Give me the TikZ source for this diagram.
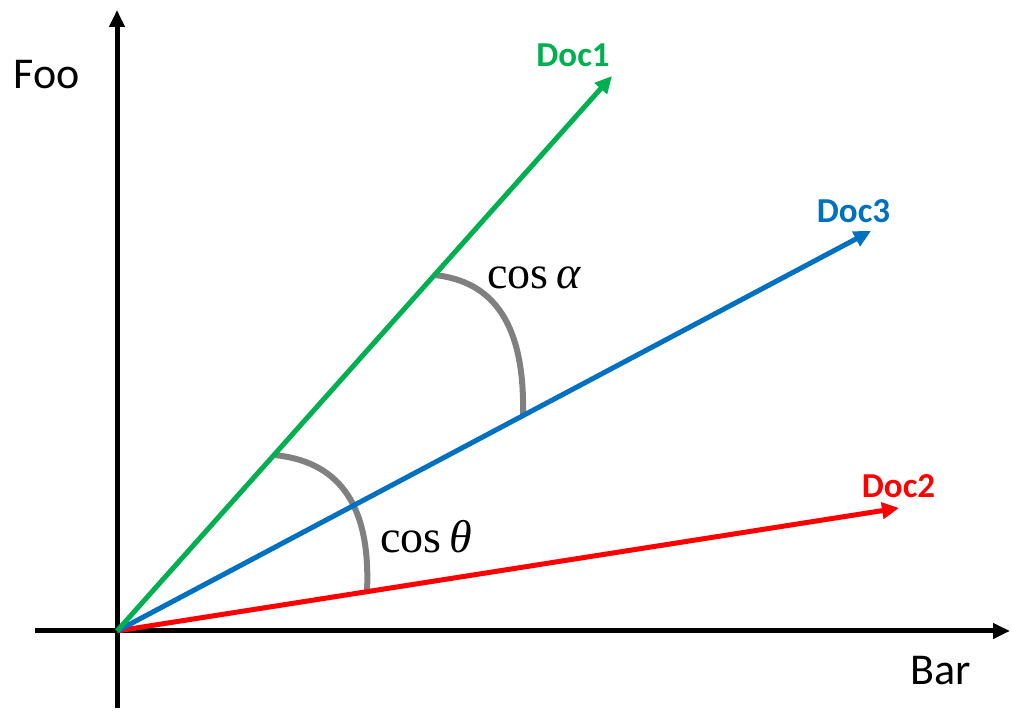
\documentclass[tikz,border=0pt]{standalone}
\usepackage{fontspec}
\setmainfont{Carlito}
\newfontfamily\cosfont{Liberation Serif}
\usetikzlibrary{arrows.meta}
\definecolor{docgreen}{HTML}{00B050}
\definecolor{docblue}{HTML}{0070C0}
\definecolor{docred}{HTML}{FF0000}
\definecolor{arcgray}{HTML}{808080}
\begin{document}
\begin{tikzpicture}[x=1pt,y=1pt,
  axis/.style={line width=5pt,-{Triangle[length=17pt,width=15pt]}},
  vec/.style={line width=5pt,-{Triangle[length=17pt,width=16pt]}},
  anglearc/.style={line width=6pt,draw=arcgray},
  axlabel/.style={inner sep=0pt,anchor=base,font=\fontsize{44}{50}\selectfont},
  doclabel/.style={inner sep=0pt,anchor=base,font=\fontsize{35}{40}\selectfont\bfseries},
  cosl/.style={inner sep=0pt,anchor=base west,font=\fontsize{46}{52}\selectfont\cosfont}]
\useasboundingbox (0,0) rectangle (1012,711);
% coordinates
\coordinate (O) at (117,80);
\coordinate (ybot) at (117,3);
\coordinate (ytop) at (117,701);
\coordinate (xleft) at (35,80);
\coordinate (xright) at (1010,80);
\coordinate (d1) at (612,635);
\coordinate (d3) at (871,480);
\coordinate (d2) at (899,203);
% axes
\draw[axis] (ybot) -- (ytop);
\draw[axis] (xleft) -- (xright);
% angle arcs
\coordinate (a1) at (434,436);
\coordinate (a2) at (523,296);
\draw[anglearc] (a1) .. controls (494,430) and (525,386) .. (a2);
\coordinate (t1) at (274,256);
\coordinate (t2) at (367,120);
\draw[anglearc] (t1) .. controls (336,250) and (371,210) .. (t2);
% vectors
\draw[vec,docred] (O) -- (d2);
\draw[vec,docblue] (O) -- (d3);
\draw[vec,docgreen] (O) -- (d1);
% labels
\node[axlabel] (foo) at (47,622) {Foo};
\node[axlabel] (bar) at (940.5,26) {Bar};
\node[doclabel,text=docgreen] (l1) at (573,644) {Doc1};
\node[doclabel,text=docblue] (l3) at (853.5,488) {Doc3};
\node[doclabel,text=docred] (l2) at (898.5,213) {Doc2};
\node[cosl] (ca) at (487,422) {cos\,{\itshape α}};
\node[cosl] (ct) at (380,158) {cos\,{\itshape θ}};
\end{tikzpicture}
\end{document}
